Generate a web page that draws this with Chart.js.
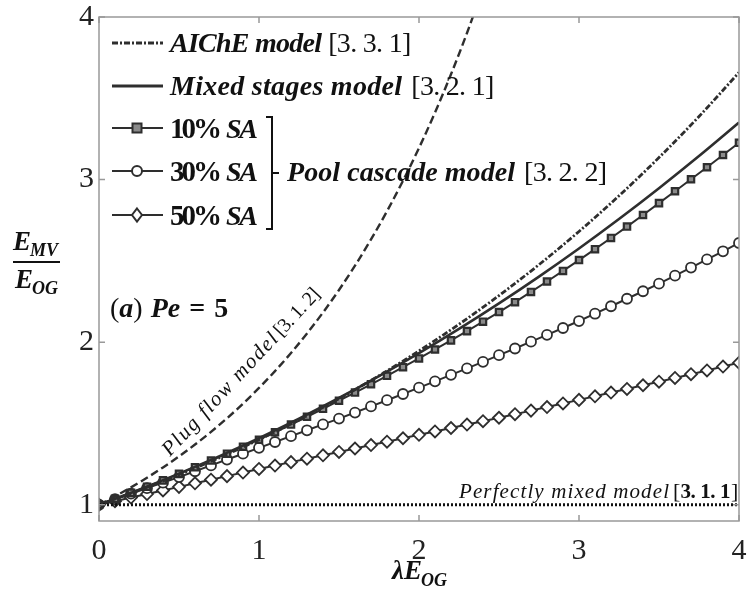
<!DOCTYPE html>
<html lang="en">
<head>
<meta charset="utf-8" />
<title>E_MV / E_OG versus lambda E_OG, Pe = 5</title>
<script src="https://cdn.jsdelivr.net/npm/chart.js"></script>
<style>
  body { margin: 0; padding: 0; background: #fff; }
  #wrap { width: 748px; height: 595px; }
</style>
</head>
<body>
<div id="wrap"><canvas id="grafico" width="748" height="595"></canvas></div>
<script>
// lambda*E_OG for the marker series (step 0.1)
var xMarks = [0, 0.1, 0.2, 0.3, 0.4, 0.5, 0.6, 0.7, 0.8, 0.9, 1, 1.1, 1.2, 1.3, 1.4, 1.5, 1.6, 1.7, 1.8, 1.9, 2,
  2.1, 2.2, 2.3, 2.4, 2.5, 2.6, 2.7, 2.8, 2.9, 3, 3.1, 3.2, 3.3, 3.4, 3.5, 3.6, 3.7, 3.8, 3.9, 4];
// lambda*E_OG for the smooth model curves
var xSmooth = [0, 0.25, 0.5, 0.75, 1, 1.25, 1.5, 1.75, 2, 2.25, 2.5, 2.75, 3, 3.25, 3.5, 3.75, 4];
var xPlug = [0, 0.1, 0.2, 0.3, 0.4, 0.5, 0.6, 0.7, 0.8, 0.9, 1, 1.1, 1.2, 1.3, 1.4, 1.5, 1.6, 1.7, 1.8, 1.9, 2,
  2.1, 2.2, 2.3, 2.4];
var xMixed = [0, 4];

var aiche = [1, 1.0885, 1.1843, 1.2881, 1.4003, 1.5216, 1.6525, 1.7938, 1.9461, 2.1101, 2.2867, 2.4767,
  2.6809, 2.9001, 3.1355, 3.3881, 3.6588];
var mixedStages = [1, 1.0925, 1.1915, 1.2974, 1.4099, 1.5296, 1.6565, 1.7906, 1.9323, 2.0813, 2.2383, 2.4033,
  2.5762, 2.7574, 2.9468, 3.1446, 3.3508];
var plugFlow = [1, 1.0517, 1.1070, 1.1662, 1.2296, 1.2974, 1.3702, 1.4482, 1.5319, 1.6218, 1.7183, 1.8220,
  1.9334, 2.0533, 2.1823, 2.3211, 2.4706, 2.6317, 2.8054, 2.9926, 3.1945, 3.4125, 3.6477, 3.9018, 4.1763];
var perfectlyMixed = [1, 1];

var sa10 = [1, 1.036, 1.073, 1.111, 1.150, 1.19, 1.231, 1.272, 1.314, 1.357, 1.40, 1.446, 1.493, 1.541, 1.590,
  1.64, 1.690, 1.741, 1.793, 1.846, 1.90, 1.955, 2.011, 2.068, 2.126, 2.185, 2.246, 2.309, 2.373, 2.438,
  2.505, 2.572, 2.641, 2.711, 2.782, 2.855, 2.928, 3.002, 3.076, 3.151, 3.226];
var sa30 = [1, 1.034, 1.068, 1.102, 1.136, 1.17, 1.206, 1.242, 1.278, 1.314, 1.35, 1.386, 1.422, 1.458, 1.494,
  1.53, 1.567, 1.605, 1.643, 1.681, 1.72, 1.759, 1.799, 1.839, 1.879, 1.92, 1.961, 2.003, 2.045, 2.087,
  2.13, 2.175, 2.221, 2.267, 2.313, 2.36, 2.409, 2.459, 2.509, 2.559, 2.61];
var sa50 = [1, 1.022, 1.044, 1.066, 1.088, 1.11, 1.132, 1.154, 1.176, 1.198, 1.22, 1.241, 1.262, 1.283, 1.304,
  1.325, 1.346, 1.367, 1.388, 1.409, 1.43, 1.451, 1.472, 1.493, 1.514, 1.535, 1.557, 1.579, 1.601, 1.623,
  1.645, 1.667, 1.690, 1.712, 1.735, 1.757, 1.780, 1.803, 1.826, 1.850, 1.873];

var xTicks = [0, 1, 2, 3, 4];
var yTicks = [1, 2, 3, 4];

var cor = '#2e2e2e';
var serif = '"Liberation Serif", "DejaVu Serif", serif';

function pares(xs, ys) {
  return ys.map(function (v, i) { return { x: xs[i], y: v }; });
}

// text helper: draws s and returns the x where it ends
function txt(ctx, s, x, y, font, largura) {
  ctx.font = font;
  ctx.letterSpacing = '0px';
  if (largura) {
    var w = ctx.measureText(s).width;
    ctx.letterSpacing = ((largura - w) / Math.max(1, s.length - 1)) + 'px';
  }
  ctx.fillText(s, x, y);
  var fim = x + ctx.measureText(s).width;
  ctx.letterSpacing = '0px';
  return fim;
}

function marcador(ctx, tipo, x, y) {
  ctx.save();
  ctx.strokeStyle = cor;
  ctx.lineWidth = 2;
  ctx.beginPath();
  if (tipo === 'rect') {
    ctx.fillStyle = '#8a8a8a';
    ctx.rect(x - 4.5, y - 4.5, 9, 9);
  } else if (tipo === 'circle') {
    ctx.fillStyle = '#fff';
    ctx.arc(x, y, 5, 0, Math.PI * 2);
  } else {
    ctx.fillStyle = '#fff';
    ctx.moveTo(x, y - 6.5); ctx.lineTo(x + 5, y); ctx.lineTo(x, y + 6.5); ctx.lineTo(x - 5, y); ctx.closePath();
  }
  ctx.fill();
  ctx.stroke();
  ctx.restore();
}

var moldura = {
  id: 'moldura',
  afterDraw: function (chart) {
    var ctx = chart.ctx, a = chart.chartArea;
    var sx = chart.scales.x, sy = chart.scales.y;
    ctx.save();
    // box and inward ticks
    ctx.strokeStyle = '#999';
    ctx.lineWidth = 1.5;
    ctx.strokeRect(a.left, a.top, a.right - a.left, a.bottom - a.top);
    ctx.beginPath();
    xTicks.forEach(function (v) {
      var px = sx.getPixelForValue(v);
      ctx.moveTo(px, a.bottom); ctx.lineTo(px, a.bottom - 6);
      ctx.moveTo(px, a.top); ctx.lineTo(px, a.top + 6);
    });
    yTicks.forEach(function (v) {
      var py = sy.getPixelForValue(v);
      ctx.moveTo(a.left, py); ctx.lineTo(a.left + 6, py);
      ctx.moveTo(a.right, py); ctx.lineTo(a.right - 6, py);
    });
    ctx.stroke();

    ctx.fillStyle = '#111';
    ctx.textBaseline = 'alphabetic';
    ctx.textAlign = 'left';

    // legend
    var lx0 = 112, lx1 = 163, tx = 170;
    var linhas = [43, 86, 128, 171, 215];
    ctx.strokeStyle = cor;
    ctx.lineWidth = 2.8;
    ctx.setLineDash([6, 2, 2, 2]);
    ctx.beginPath(); ctx.moveTo(lx0, linhas[0]); ctx.lineTo(lx1, linhas[0]); ctx.stroke();
    ctx.setLineDash([]);
    ctx.beginPath(); ctx.moveTo(lx0, linhas[1]); ctx.lineTo(lx1, linhas[1]); ctx.stroke();
    ctx.lineWidth = 2.2;
    [2, 3, 4].forEach(function (i) {
      ctx.beginPath(); ctx.moveTo(lx0, linhas[i]); ctx.lineTo(lx1, linhas[i]); ctx.stroke();
    });
    marcador(ctx, 'rect', 137, linhas[2]);
    marcador(ctx, 'circle', 137, linhas[3]);
    marcador(ctx, 'diamond', 137, linhas[4]);

    var bi = 'italic bold 28px ' + serif, b = 'bold 29px ' + serif, rg = '28px ' + serif;
    var e = txt(ctx, 'AIChE model', tx, linhas[0] + 9, bi, 152);
    txt(ctx, '[3. 3. 1]', e + 7, linhas[0] + 9, rg, 83);
    e = txt(ctx, 'Mixed stages model', tx, linhas[1] + 9, bi, 232);
    txt(ctx, '[3. 2. 1]', e + 9, linhas[1] + 9, rg, 83);
    ['10%', '30%', '50%'].forEach(function (p, k) {
      var yb = linhas[2 + k] + 10;
      var f = txt(ctx, p, tx, yb, b, 52);
      txt(ctx, 'SA', f + 7, yb, bi, 32);
    });
    // bracket
    ctx.lineWidth = 2;
    ctx.strokeStyle = '#111';
    ctx.beginPath();
    ctx.moveTo(266, 117); ctx.lineTo(272, 117); ctx.lineTo(272, 229); ctx.lineTo(266, 229);
    ctx.moveTo(272, 173); ctx.lineTo(279, 173);
    ctx.stroke();
    e = txt(ctx, 'Pool cascade model', 287, 181, bi, 228);
    txt(ctx, '[3. 2. 2]', e + 9, 181, rg, 83);

    // panel label
    var f2 = 'bold 28px ' + serif;
    e = txt(ctx, '(', 110, 317, rg);
    e = txt(ctx, 'a', e, 317, bi);
    e = txt(ctx, ')', e, 317, rg);
    e = txt(ctx, 'Pe', e + 8, 317, bi);
    e = txt(ctx, '=', e + 9, 317, f2);
    txt(ctx, '5', e + 9, 317, f2);

    // perfectly mixed label
    e = txt(ctx, 'Perfectly mixed model', 459, 498, 'italic 21px ' + serif, 210);
    e = txt(ctx, '[', e + 3, 498, '22px ' + serif);
    e = txt(ctx, '3. 1. 1', e, 498, 'bold 21px ' + serif, 50);
    txt(ctx, ']', e + 1, 498, '22px ' + serif);

    // plug flow label along the curve
    ctx.save();
    ctx.translate(170, 457);
    ctx.rotate(-47 * Math.PI / 180);
    e = txt(ctx, 'Plug flow model', 0, 0, 'italic 21px ' + serif, 160);
    txt(ctx, '[3. 1. 2]', e + 2, 0, '20px ' + serif, 58);
    ctx.restore();

    // y axis title as a fraction
    e = txt(ctx, 'E', 13, 250, 'italic bold 27px ' + serif);
    txt(ctx, 'MV', e - 1, 256, 'italic bold 18px ' + serif);
    ctx.beginPath(); ctx.lineWidth = 2; ctx.moveTo(13, 262); ctx.lineTo(60, 262); ctx.stroke();
    e = txt(ctx, 'E', 15, 288, 'italic bold 27px ' + serif);
    txt(ctx, 'OG', e - 1, 294, 'italic bold 18px ' + serif);

    // x axis title
    e = txt(ctx, '\u03bbE', 392, 579, 'italic bold 27px ' + serif);
    txt(ctx, 'OG', e - 1, 586, 'italic bold 18px ' + serif);
    ctx.restore();
  }
};

var ctx = document.getElementById('grafico').getContext('2d');
var grafico = new Chart(ctx, {
  type: 'line',
  data: {
    datasets: [
      { label: 'Perfectly mixed model [3.1.1]', data: pares(xMixed, perfectlyMixed), borderColor: '#111',
        borderWidth: 2.8, borderDash: [2, 2], pointRadius: 0 },
      { label: 'Plug flow model [3.1.2]', data: pares(xPlug, plugFlow), borderColor: cor, borderWidth: 2.4,
        borderDash: [8, 4], pointRadius: 0, cubicInterpolationMode: 'monotone' },
      { label: 'AIChE model [3.3.1]', data: pares(xSmooth, aiche), borderColor: cor, borderWidth: 2.8,
        borderDash: [6, 2, 2, 2], pointRadius: 0, cubicInterpolationMode: 'monotone' },
      { label: 'Mixed stages model [3.2.1]', data: pares(xSmooth, mixedStages), borderColor: cor, borderWidth: 2.6,
        pointRadius: 0, cubicInterpolationMode: 'monotone' },
      { label: '10% SA', data: pares(xMarks, sa10), borderColor: cor, borderWidth: 2, pointStyle: 'rect',
        pointRadius: 4.5, pointBorderWidth: 2.2, pointBackgroundColor: '#8a8a8a', pointBorderColor: cor },
      { label: '30% SA', data: pares(xMarks, sa30), borderColor: cor, borderWidth: 2, pointStyle: 'circle',
        pointRadius: 5, pointBorderWidth: 1.8, pointBackgroundColor: '#fff', pointBorderColor: cor },
      { label: '50% SA', data: pares(xMarks, sa50), borderColor: cor, borderWidth: 2, pointStyle: 'rectRot',
        pointRadius: 6, pointBorderWidth: 1.8, pointBackgroundColor: '#fff', pointBorderColor: cor }
    ]
  },
  options: {
    responsive: false,
    animation: false,
    layout: { padding: { top: 17, right: 9, left: 0, bottom: 0 } },
    plugins: { legend: { display: false }, tooltip: { enabled: false } },
    scales: {
      x: {
        type: 'linear', min: 0, max: 4,
        grid: { display: false, drawTicks: false },
        border: { display: false },
        ticks: { stepSize: 1, padding: 12, color: '#222', font: { family: serif, size: 30 } },
        afterBuildTicks: function (s) { s.ticks = xTicks.map(function (v) { return { value: v }; }); },
        afterFit: function (s) { s.height = 74; s.paddingLeft = 0; s.paddingRight = 0; }
      },
      y: {
        type: 'linear', min: 0.9, max: 4,
        grid: { display: false, drawTicks: false },
        border: { display: false },
        ticks: { padding: 5, color: '#222', font: { family: serif, size: 30 } },
        afterBuildTicks: function (s) { s.ticks = yTicks.map(function (v) { return { value: v }; }); },
        afterFit: function (s) { s.width = 99; s.paddingTop = 0; s.paddingBottom = 0; }
      }
    }
  },
  plugins: [moldura]
});
</script>
</body>
</html>
